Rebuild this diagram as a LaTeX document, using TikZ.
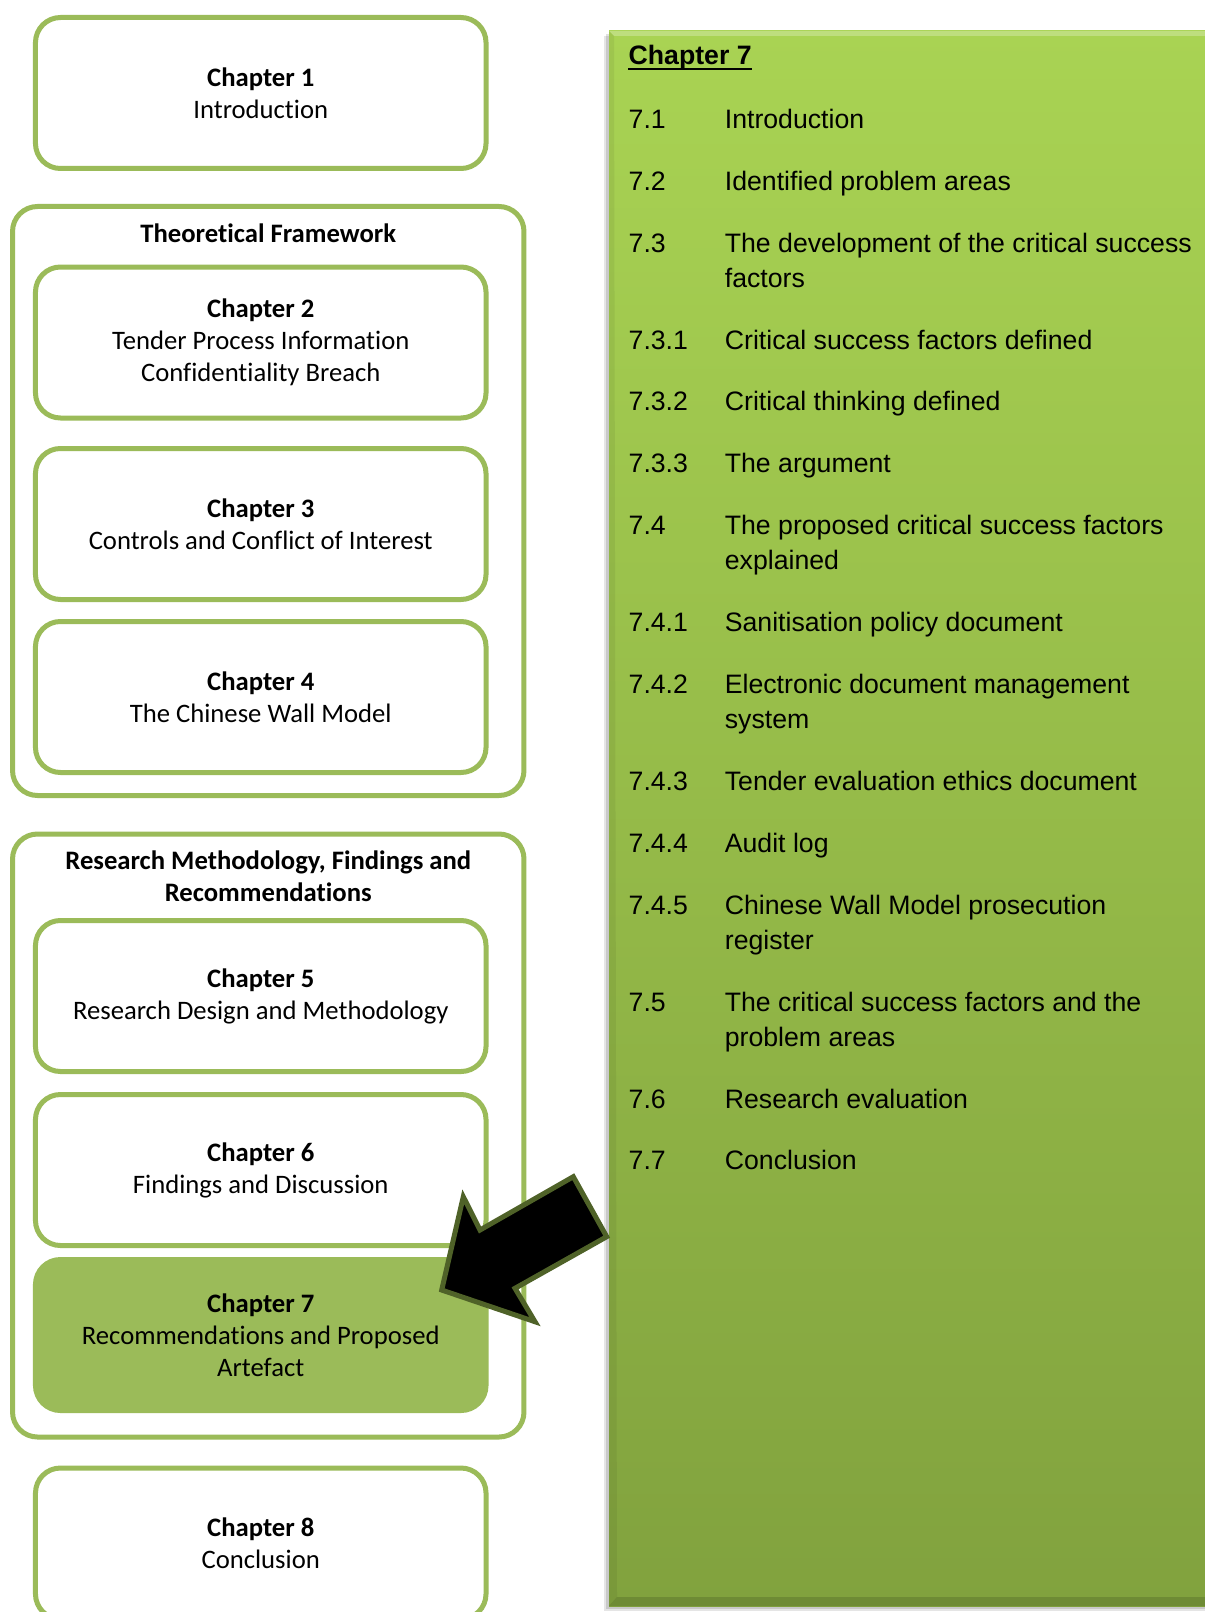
\documentclass[tikz,border=0pt]{standalone}
\usepackage{fontspec}
\setmainfont[Ligatures=NoCommon]{Carlito}
\newfontfamily\arialfont{Liberation Sans}

\definecolor{boxgreen}{HTML}{9BBB59}
\definecolor{arrowrim}{HTML}{4F6228}
\definecolor{paneltop}{HTML}{A9D353}
\definecolor{panelbot}{HTML}{81A23E}

\newcommand\chapfont{\fontsize{20}{24}\selectfont}
\newcommand\tocfont{\arialfont\fontsize{20}{26}\selectfont}

\tikzset{
  chapbox/.style={draw=boxgreen, line width=3.75pt, rounded corners=18.75pt,
    minimum width=337.9pt, minimum height=113.25pt, inner sep=0pt,
    align=center, font=\chapfont},
  groupbox/.style={draw=boxgreen, line width=3.75pt, rounded corners=18.75pt,
    minimum width=383.6pt, inner sep=0pt},
  grouptitle/.style={font=\chapfont\bfseries, align=center, inner sep=0pt},
  panelbox/.style={top color=paneltop, bottom color=panelbot, draw=none,
    minimum width=454.5pt, minimum height=1181.25pt, inner sep=0pt},
  tocline/.style={anchor=base west, inner sep=0pt, font=\tocfont},
  blockarrow/.style={fill=black, draw=arrowrim, line width=3.75pt, line join=miter},
}

% one numbered entry of the chapter 7 contents: name, baseline, number, text
\newcommand\tocitem[4]{%
  \node[tocline] (n#1) at (628.4,#2) {#3};
  \node[tocline] (t#1) at (724.6,#2) {#4};}
% second line of a wrapped entry: name, baseline, text
\newcommand\tocmore[3]{%
  \node[tocline] (t#1b) at (724.6,#2) {#3};}

\begin{document}
\begin{tikzpicture}[x=0.75pt,y=-0.75pt]
\useasboundingbox (0,0) rectangle (1205,1612);
\clip (0,0) rectangle (1205,1612);
\fill[white] (0,0) rectangle (1205,1612);

% group frames
\node[groupbox, minimum height=441.75pt] (tf) at (268.25,501) {};
\node[grouptitle, anchor=base] (tftitle) at (268.25,242.5) {Theoretical Framework};
\node[groupbox, minimum height=452.25pt] (rm) at (268.25,1135.5) {};
\node[grouptitle] (rmtitle) at (268.25,876) {Research Methodology, Findings and\\Recommendations};

% chapter boxes
\node[chapbox] (ch1) at (260.75,93) {\textbf{Chapter 1}\\Introduction};
\node[chapbox] (ch2) at (260.75,342.5) {\textbf{Chapter 2}\\Tender Process Information\\Confidentiality Breach};
\node[chapbox] (ch3) at (260.75,524) {\textbf{Chapter 3}\\Controls and Conflict of Interest};
\node[chapbox] (ch4) at (260.75,697) {\textbf{Chapter 4}\\The Chinese Wall Model};
\node[chapbox] (ch5) at (260.75,996) {\textbf{Chapter 5}\\Research Design and Methodology};
\node[chapbox] (ch6) at (260.75,1170) {\textbf{Chapter 6}\\Findings and Discussion};
\node[chapbox, fill=boxgreen] (ch7) at (260.75,1335) {\textbf{Chapter 7}\\Recommendations and Proposed\\Artefact};
\node[chapbox] (ch8) at (260.75,1543.5) {\textbf{Chapter 8}\\Conclusion};

% contents panel with soft shadow and bevelled edges
\fill[black, opacity=0.10] (604,36) rectangle (1215,1611);
\fill[black, opacity=0.12] (606,34) rectangle (1215,1609);
\node[panelbox] (panel) at (912,818.5) {};
\fill[white, opacity=0.25] (609,31) -- (1215,31) -- (1215,36) -- (614,36) -- cycle;
\fill[black, opacity=0.06] (609,31) -- (614,36) -- (617,1597) -- (609,1606) -- cycle;
\fill[black, opacity=0.14] (609,1606) -- (1215,1606) -- (1215,1597) -- (617,1597) -- cycle;

\node[tocline] (h7) at (628.4,65) {\textbf{Chapter 7}};
\draw[line width=1.6pt] ([yshift=-3pt]h7.base west) -- ([yshift=-3pt]h7.base east);

\tocitem{71}{128.3}{7.1}{Introduction}
\tocitem{72}{190.2}{7.2}{Identified problem areas}
\tocitem{73}{252.1}{7.3}{The development of the critical success}
\tocmore{73}{287.1}{factors}
\tocitem{731}{349}{7.3.1}{Critical success factors defined}
\tocitem{732}{410.9}{7.3.2}{Critical thinking defined}
\tocitem{733}{472.8}{7.3.3}{The argument}
\tocitem{74}{534.7}{7.4}{The proposed critical success factors}
\tocmore{74}{569.7}{explained}
\tocitem{741}{631.6}{7.4.1}{Sanitisation policy document}
\tocitem{742}{693.5}{7.4.2}{Electronic document management}
\tocmore{742}{728.5}{system}
\tocitem{743}{790.4}{7.4.3}{Tender evaluation ethics document}
\tocitem{744}{852.3}{7.4.4}{Audit log}
\tocitem{745}{914.2}{7.4.5}{Chinese Wall Model prosecution}
\tocmore{745}{949.2}{register}
\tocitem{75}{1011.1}{7.5}{The critical success factors and the}
\tocmore{75}{1046.1}{problem areas}
\tocitem{76}{1108}{7.6}{Research evaluation}
\tocitem{77}{1169.9}{7.7}{Conclusion}

% block arrow from the panel onto chapter 7
\draw[blockarrow] (441.7,1290) -- (463.3,1196.7) -- (480,1230) -- (573.3,1176.7)
  -- (606.7,1236.7) -- (515,1288.3) -- (535,1321.7) -- cycle;
\end{tikzpicture}
\end{document}
